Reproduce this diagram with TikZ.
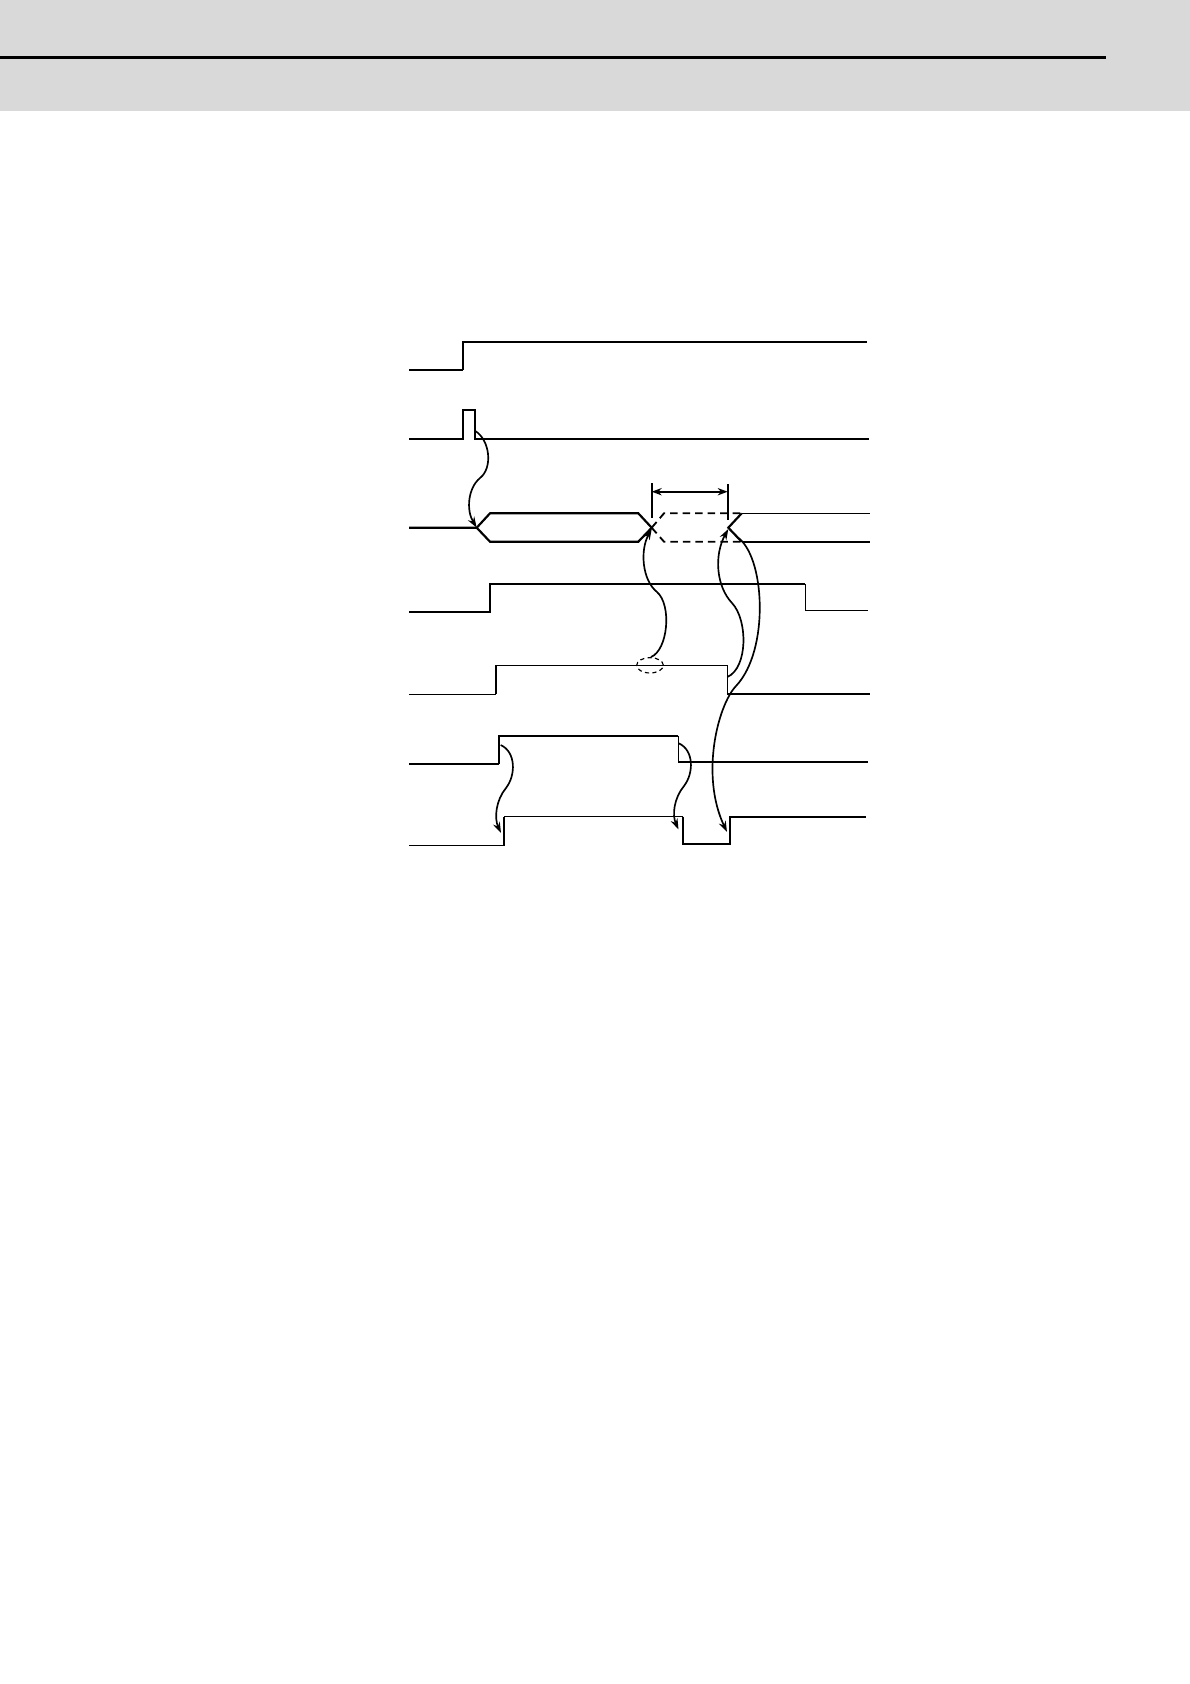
\documentclass[tikz,border=0pt]{standalone}
\usetikzlibrary{arrows.meta}
\definecolor{hdr}{HTML}{D9D9D9}
\begin{document}
\begin{tikzpicture}[x=0.6pt,y=-0.6pt,
  thk/.style={line width=1.3pt,line join=miter},
  thn/.style={line width=0.7pt,line join=miter},
  dsh/.style={line width=1.1pt,dash pattern=on 4.5pt off 3pt},
  cause/.style={line width=1pt,-{Stealth[length=6.5pt,width=4.4pt]}},
  dim/.style={line width=1.3pt,{Stealth[length=6pt,width=4.4pt]}-{Stealth[length=6pt,width=4.4pt]}}]
\useasboundingbox (0,0) rectangle (1190,1684);
% header
\fill[hdr] (0,0) rectangle (1190,111);
\draw[line width=1.8pt] (0,57) -- (1106,57);
% signal 1
\draw[thn] (409,370) -- (463.3,370);
\draw[thk] (463.3,370) -- (463.3,342) -- (866.7,342);
% signal 2
\draw[thk] (409,439.3) -- (463.3,439.3) -- (463.3,410.3) -- (475.3,410.3) -- (475.3,439.3) -- (869,439.3);
\coordinate (p2) at (475.3,431);
% signal 3 (bus)
\draw[thk] (409,527.7) -- (476.7,527.7) -- (490,513.3) -- (638.3,513.3) -- (651.7,527.7);
\draw[thk] (476.7,527.7) -- (490,541.7) -- (638.3,541.7) -- (651.7,527.7);
\coordinate (b0) at (476.7,527.7);
\coordinate (x1) at (651.7,529);
\draw[dsh] (651.7,527.7) -- (664,513.3) -- (741.7,513.3);
\draw[dsh] (651.7,527.7) -- (664,541.7) -- (741.7,541.7);
\draw[thk] (741.7,513.3) -- (728.3,527.7) -- (741.7,541.7);
\coordinate (x2) at (728.3,529);
\draw[thn] (741.7,513.3) -- (870,513.3);
\draw[thk] (741.7,541.7) -- (870,541.7);
\coordinate (b1) at (737,537);
% dimension
\draw[thk] (651.7,483.3) -- (651.7,518.3);
\draw[thk] (727.7,484.3) -- (727.7,520);
\coordinate (d1) at (651.7,491.7);
\coordinate (d2) at (727.7,491.7);
\draw[dim] (d1) -- (d2);
% signal 4
\draw[thk] (409,612.3) -- (490,612.3) -- (490,584) -- (805.3,584);
\draw[thn] (805.3,584) -- (805.3,610.3) -- (867.7,610.3);
% signal 5
\draw[thn] (409,694.3) -- (496,694.3);
\draw[thk] (496,694.3) -- (496,665.3);
\draw[thn] (496,665.3) -- (727.3,665.3) -- (727.3,694);
\draw[thk] (727.3,694) -- (870,694);
\coordinate (s5) at (727.3,677);
\draw[line width=0.7pt,dash pattern=on 2.5pt off 2pt] (650,665.3) ellipse [x radius=8pt, y radius=4.6pt];
\coordinate (el) at (651,657);
% signal 6
\draw[thn] (409,764) -- (499,764);
\draw[thk] (499,764) -- (499,735.7) -- (678.3,735.7);
\draw[thn] (678.3,735.7) -- (678.3,762.3);
\draw[thk] (678.3,762.3) -- (867.7,762.3);
\coordinate (s6a) at (500.7,745);
\coordinate (s6b) at (678.7,743.3);
% signal 7
\draw[thn] (409,845.7) -- (504.3,845.7);
\draw[thk] (504.3,845.7) -- (504.3,816.7);
\draw[thn] (504.3,816.7) -- (683.3,816.7);
\draw[thk] (683.3,816.7) -- (683.3,844) -- (730,844) -- (730,816.7) -- (866,816.7);
\coordinate (s7a) at (501,833);
\coordinate (s7b) at (678.5,829.5);
\coordinate (s7c) at (727,832);
% cause arrows
\draw[cause] (p2) .. controls (490,440) and (493,468) .. (480,478) .. controls (468,488) and (466,510) .. (b0);
\draw[cause] (el) .. controls (668,650) and (672,605) .. (657,592) .. controls (642,580) and (640,550) .. (x1);
\draw[cause] (s5) .. controls (748,668) and (748,620) .. (732,603) .. controls (716,586) and (714,555) .. (x2);
\draw[cause] (b1) .. controls (765,555) and (770,650) .. (736,686) .. controls (718,705) and (700,775) .. (s7c);
\draw[cause] (s6a) .. controls (516,752) and (516,775) .. (506,788) .. controls (496,800) and (494,818) .. (s7a);
\draw[cause] (s6b) .. controls (694,750) and (694,773) .. (684,786) .. controls (674,798) and (672,815) .. (s7b);
\end{tikzpicture}
\end{document}
